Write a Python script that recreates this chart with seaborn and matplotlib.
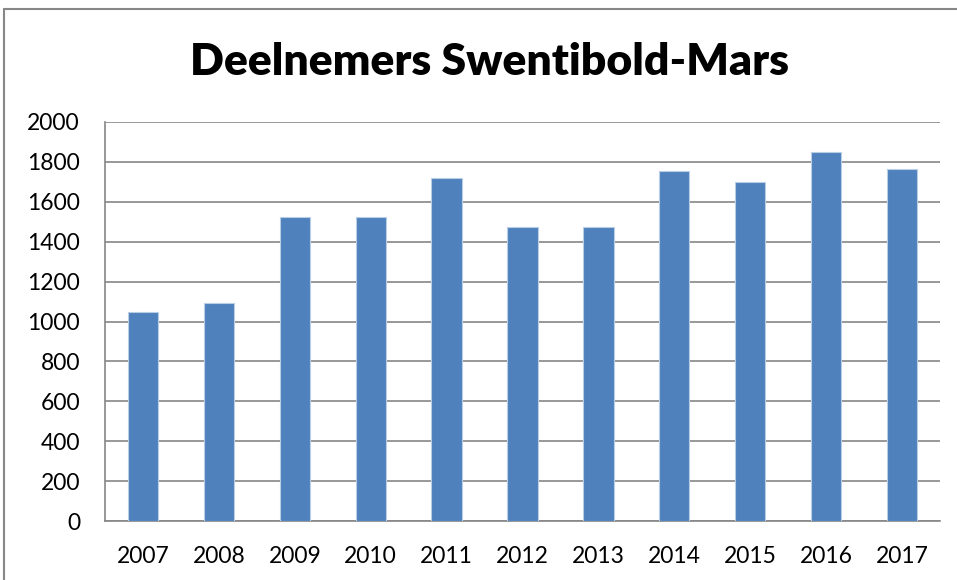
import pandas as pd
import matplotlib
matplotlib.use('Agg')
import matplotlib.pyplot as plt
from matplotlib.lines import Line2D
import seaborn as sns

jaren = ['2007', '2008', '2009', '2010', '2011', '2012', '2013', '2014', '2015', '2016', '2017']
deelnemers = [1048, 1093, 1523, 1523, 1717, 1472, 1475, 1756, 1698, 1852, 1762]
y_ticks = [0, 200, 400, 600, 800, 1000, 1200, 1400, 1600, 1800, 2000]

sns.set_style('white')
plt.rcParams['font.family'] = ['Lato', 'DejaVu Sans']

df = pd.DataFrame({'jaar': jaren, 'deelnemers': deelnemers})

fig = plt.figure(figsize=(9.57, 5.8), dpi=100)
ax = fig.add_axes([105/957, 1 - 521/580, (940 - 105)/957, (521 - 122)/580])

sns.barplot(data=df, x='jaar', y='deelnemers', color='#4F81BD', saturation=1,
            width=0.4, edgecolor='#B9CDE5', linewidth=0.8, ax=ax, zorder=3)

ax.set_ylim(0, 2000)
ax.set_yticks(y_ticks)
ax.set_xlim(-0.5, len(jaren) - 0.5)
ax.yaxis.grid(True, color='#868686', linewidth=1.2, zorder=0)
ax.set_axisbelow(True)
ax.set_xlabel('')
ax.set_ylabel('')
for side in ['top', 'right']:
    ax.spines[side].set_visible(False)
for side in ['left', 'bottom']:
    ax.spines[side].set_color('#868686')
    ax.spines[side].set_linewidth(1.2)
ax.tick_params(axis='both', length=0, labelsize=16.5, colors='#000000')
ax.tick_params(axis='y', pad=18)
ax.tick_params(axis='x', pad=18)

fig.text(489/957, 1 - 62/580, 'Deelnemers Swentibold-Mars', ha='center', va='center',
         fontsize=32, fontweight='heavy', color='#000000')

# rand van het grafiekgebied
fig.add_artist(Line2D([4/957, 1], [1 - 9/580, 1 - 9/580], color='#878787', linewidth=1.5))
fig.add_artist(Line2D([4/957, 4/957], [0, 1 - 9/580], color='#878787', linewidth=1.5))

fig.savefig('out.png', dpi=100)
